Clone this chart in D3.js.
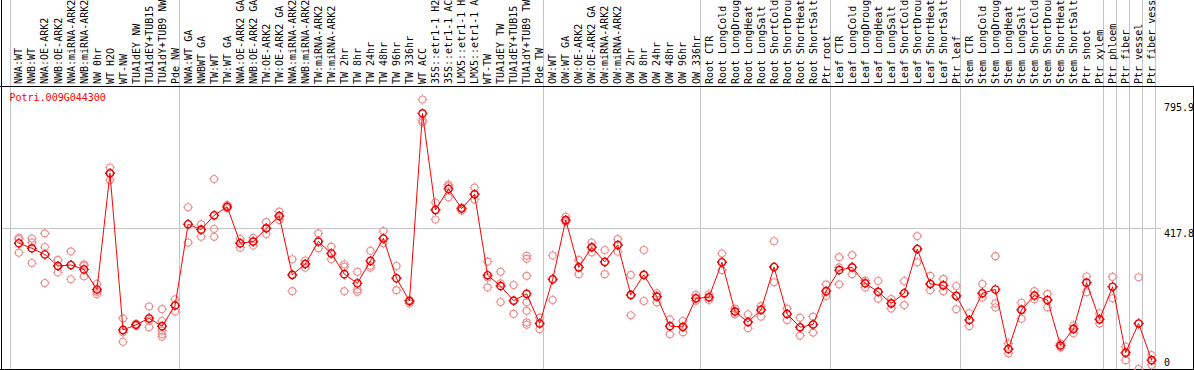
<!DOCTYPE html>
<html>
<head>
<meta charset="utf-8">
<script src="https://cdn.jsdelivr.net/npm/d3@7"></script>
<style>
  body { margin: 0; background: #fff; }
  svg { display: block; font-family: "DejaVu Sans Mono", monospace; font-size: 10px; }
</style>
</head>
<body>
<div id="chart"></div>
<script>
const geneName = "Potri.009G044300";

const categories = [
  "NWA:WT", "NWB:WT", "NWA:OE-ARK2", "NWB:OE-ARK2", "NWA:miRNA-ARK2", "NWB:miRNA-ARK2",
  "NW 0hr", "WT H2O", "WT-NW", "TUA1dEY NW", "TUA1dEY+TUB15 NW", "TUA1dY+TUB9 NW", "Pde NW",
  "NWA:WT GA", "NWBWT GA", "TW:WT", "TW:WT GA", "NWA:OE-ARK2 GA", "NWB:OE-ARK2 GA",
  "TW:OE-ARK2", "TW:OE-ARK2 GA", "NWA:miRNA-ARK2", "NWB:miRNA-ARK2", "TW:miRNA-ARK2",
  "TW:miRNA-ARK2", "TW 2hr", "TW 8hr", "TW 24hr", "TW 48hr", "TW 96hr", "TW 336hr",
  "WT ACC", "35S::etr1-1 H2O", "35S::etr1-1 ACC", "LMX5::etr1-1 H2O", "LMX5::etr1-1 ACC",
  "WT-TW", "TUA1dEY TW", "TUA1dEY+TUB15 TW", "TUA1dY+TUB9 TW", "Pde TW",
  "OW:WT", "OW:WT GA", "OW:OE-ARK2", "OW:OE-ARK2 GA", "OW:miRNA-ARK2", "OW:miRNA-ARK2",
  "OW 2hr", "OW 8hr", "OW 24hr", "OW 48hr", "OW 96hr", "OW 336hr",
  "Root CTR", "Root LongCold", "Root LongDrought", "Root LongHeat", "Root LongSalt",
  "Root ShortCold", "Root ShortDrought", "Root ShortHeat", "Root ShortSalt", "Ptr root",
  "Leaf CTR", "Leaf LongCold", "Leaf LongDrought", "Leaf LongHeat", "Leaf LongSalt",
  "Leaf ShortCold", "Leaf ShortDrought", "Leaf ShortHeat", "Leaf ShortSalt", "Ptr leaf",
  "Stem CTR", "Stem LongCold", "Stem LongDrought", "Stem LongHeat", "Stem LongSalt",
  "Stem ShortCold", "Stem ShortDrought", "Stem ShortHeat", "Stem ShortSalt", "Ptr shoot",
  "Ptr xylem", "Ptr phloem", "Ptr fiber", "Ptr vessel", "Ptr fiber vessel"
];

// first category index of each sample group (last entry = end)
const groupStarts = [0, 13, 41, 53, 63, 73, 84, 85, 86, 87, 88];

const means = [
  373, 358, 340, 306, 309, 296, 237, 579, 118, 133, 152, 129, 190,
  429, 413, 455, 480, 373, 378, 417, 453, 280, 312, 378, 343, 282, 255, 321,
  387, 270, 203, 755, 471, 533, 475, 517, 279, 247, 204, 224, 137,
  267, 441, 302, 361, 318, 368, 221, 280, 216, 129, 127, 211,
  214, 317, 172, 141, 177, 303, 165, 126, 134, 232,
  294, 302, 255, 230, 196, 226, 356, 253, 249, 218,
  147, 226, 237, 62, 177, 219, 206, 72, 121, 257, 149,
  245, 51, 137, 29
];

const replicates = [
  [389, 385, 345], [387, 375, 315], [402, 362, 256], [324, 306, 287], [349, 309, 267],
  [311, 307, 276], [253, 230, 223], [596, 579, 559], [152, 111, 83], [136, 133, 130],
  [187, 145, 126], [179, 144, 116, 105, 98], [208, 190, 172],
  [479, 429, 375], [429, 413, 392], [562, 415, 392], [485, 480, 476], [386, 373, 360],
  [389, 378, 366], [435, 417, 400], [466, 453, 441], [326, 280, 232], [322, 312, 301],
  [402, 378, 358], [363, 343, 326], [311, 304, 232], [289, 237, 230], [351, 307, 301],
  [409, 387, 373], [306, 270, 235], [196, 203, 206], [795.9, 735, 729], [493, 471, 443],
  [546, 541, 508], [478, 475, 469], [537, 517, 502], [319, 272, 243], [289, 255, 200],
  [250, 204, 165], [336, 327, 277, 199, 174, 140, 133], [154, 137, 120],
  [337, 267, 206], [451, 441, 436], [324, 302, 282], [375, 361, 346], [353, 318, 282],
  [385, 368, 348], [280, 221, 161], [353, 280, 203], [226, 216, 199], [149, 129, 105],
  [144, 127, 111], [221, 211, 204],
  [223, 214, 206], [343, 317, 294], [181, 172, 164], [164, 141, 123], [188, 177, 157],
  [379, 303, 258], [181, 165, 147], [154, 126, 101], [157, 134, 110], [252, 232, 218],
  [332, 302, 252], [338, 302, 282], [263, 255, 243], [262, 230, 210], [209, 196, 181],
  [262, 226, 191], [394, 356, 317], [277, 253, 235], [268, 249, 232], [247, 218, 179],
  [167, 147, 129], [253, 226, 213], [335, 196, 184], [78, 62, 49], [198, 177, 151],
  [232, 219, 208], [224, 206, 184], [78, 72, 66], [131, 121, 108], [275, 257, 229],
  [167, 149, 137], [274, 245, 211], [69, 51, 29], [273, 137, 3], [44, 29, 15]
];

const yTicks = [0, 417.8, 795.9];

const width = 1194, height = 370;
const headerH = 86;

const svg = d3.select("#chart").append("svg")
  .attr("width", width)
  .attr("height", height);

const x = d3.scaleBand()
  .domain(d3.range(categories.length))
  .range([10, 1155.8])
  .padding(0);

const pointOffset = x.bandwidth() * 0.68;
const px = i => x(i) + pointOffset;

const y = d3.scaleLinear()
  .domain([0, 795.9])
  .range([370, 99.5]);

// vertical group separators (run through header too)
svg.append("g")
  .selectAll("line")
  .data(groupStarts)
  .enter()
  .append("line")
  .attr("x1", d => d < categories.length ? x(d) : x(d - 1) + x.bandwidth())
  .attr("x2", d => d < categories.length ? x(d) : x(d - 1) + x.bandwidth())
  .attr("y1", 0)
  .attr("y2", height)
  .attr("stroke", "#c4c4c4")
  .attr("stroke-width", 1)
  .attr("shape-rendering", "crispEdges");

// horizontal grid line at the middle tick
svg.append("line")
  .attr("x1", 1)
  .attr("x2", 1161)
  .attr("y1", Math.round(y(yTicks[1])) + 0.5)
  .attr("y2", Math.round(y(yTicks[1])) + 0.5)
  .attr("stroke", "#c4c4c4")
  .attr("shape-rendering", "crispEdges");

// frame
svg.append("line")
  .attr("x1", 0).attr("x2", width)
  .attr("y1", headerH + 0.5).attr("y2", headerH + 0.5)
  .attr("stroke", "#000")
  .attr("shape-rendering", "crispEdges");
svg.append("line")
  .attr("x1", 0).attr("x2", width)
  .attr("y1", 369.5).attr("y2", 369.5)
  .attr("stroke", "#000")
  .attr("shape-rendering", "crispEdges");
svg.append("line")
  .attr("x1", 1.5).attr("x2", 1.5)
  .attr("y1", 0).attr("y2", height)
  .attr("stroke", "#000")
  .attr("shape-rendering", "crispEdges");
svg.append("line")
  .attr("x1", 1193.5).attr("x2", 1193.5)
  .attr("y1", headerH).attr("y2", height)
  .attr("stroke", "#000")
  .attr("shape-rendering", "crispEdges");

// category labels, rotated
svg.append("g")
  .selectAll("text")
  .data(categories)
  .enter()
  .append("text")
  .attr("transform", (d, i) => `translate(${px(i) + 3.6},${headerH - 2}) rotate(-90)`)
  .attr("fill", "#000")
  .text(d => d);

// y tick labels on the right
svg.append("g")
  .selectAll("text")
  .data(yTicks)
  .enter()
  .append("text")
  .attr("x", 1164)
  .attr("y", d => Math.min(Math.max(y(d) + 8.5, 110.5), 365.5))
  .attr("fill", "#000")
  .text(d => d === 0 ? "0" : d.toFixed(1));

// gene name
svg.append("text")
  .attr("x", 9.5)
  .attr("y", 100.5)
  .attr("fill", "#ff0000")
  .text(geneName);

// circle with little tick marks
const marker = (cx, cy, r) => {
  const t = 1.4;
  return `M${cx + r},${cy}A${r},${r} 0 1,1 ${cx - r},${cy}A${r},${r} 0 1,1 ${cx + r},${cy}` +
    `M${cx},${cy - r}V${cy - r - t}M${cx},${cy + r}V${cy + r + t}` +
    `M${cx - r},${cy}H${cx - r - t}M${cx + r},${cy}H${cx + r + t}`;
};

const plot = svg.append("g");

// replicate points
const repData = [];
replicates.forEach((reps, i) => reps.forEach(v => repData.push({ i, v })));

plot.append("g")
  .selectAll("path")
  .data(repData)
  .enter()
  .append("path")
  .attr("d", d => marker(px(d.i), y(d.v), 3.5))
  .attr("fill", "none")
  .attr("stroke", "#ee8e8e")
  .attr("stroke-width", 1.1);

// mean line
const line = d3.line()
  .x((d, i) => px(i))
  .y(d => y(d));

plot.append("path")
  .datum(means)
  .attr("d", line)
  .attr("fill", "none")
  .attr("stroke", "#ff0000")
  .attr("stroke-width", 1);

// mean points
plot.append("g")
  .selectAll("path")
  .data(means)
  .enter()
  .append("path")
  .attr("d", (d, i) => marker(px(i), y(d), 3.6))
  .attr("fill", "none")
  .attr("stroke", "#ee0000")
  .attr("stroke-width", 1.4);
</script>
</body>
</html>
